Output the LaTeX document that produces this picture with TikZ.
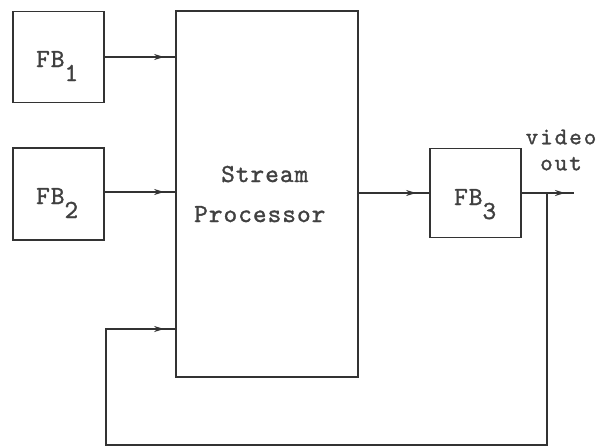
\documentclass[tikz,border=0pt]{standalone}
\usepackage{fontspec}
\usetikzlibrary{arrows.meta,decorations.markings}
\newfontfamily\twfam{lmmono10-regular.otf}[LetterSpace=4,FakeBold=1.2]
\newfontfamily\twfamv{lmmono10-regular.otf}[LetterSpace=8,FakeBold=1.2]
\newcommand{\twfont}{\twfam\fontsize{26}{28}\selectfont}
\newcommand{\twfontv}{\twfamv\fontsize{24}{26}\selectfont}
\newcommand{\fbsub}[1]{FB\raisebox{-14pt}{#1}}
\begin{document}
\begin{tikzpicture}[x=1pt,y=-1pt,
  blk/.style={draw=black!80,line width=1.8pt,rectangle,inner sep=0pt},
  conn/.style={draw=black!80,line width=1.8pt},
  tipat/.style={postaction={decorate},decoration={markings,
     mark=at position #1 with {\arrow{Stealth[length=10pt,width=6pt]}}}},
  lbl/.style={text=black!75,font=\twfont,inner sep=0pt,anchor=base west}]
\useasboundingbox (0,0) rectangle (608,447);
% boxes
\node[blk,minimum width=91pt,minimum height=91pt] (fb1) at (58.5,57) {};
\node[blk,minimum width=91pt,minimum height=92pt] (fb2) at (58.5,194) {};
\node[blk,minimum width=182pt,minimum height=366pt] (sp) at (267,194) {};
\node[blk,minimum width=91pt,minimum height=89pt] (fb3) at (475.5,193) {};
% labels
\node[lbl] (t1) at (36,67) {\fbsub{1}};
\node[lbl] (t2) at (36,204) {\fbsub{2}};
\node[lbl] (t3) at (454,205) {\fbsub{3}};
\node[lbl] (s1) at (221,182) {Stream};
\node[lbl] (s2) at (194,222) {Processor};
\node[lbl,font=\twfontv,anchor=center,align=center] (v) at (561,150) {video\\out};
% coordinates
\coordinate (out) at (574,193);
\coordinate (j) at (547,193);
\coordinate (c1) at (547,445);
\coordinate (c2) at (106,445);
\coordinate (c3) at (106,329);
\coordinate (fbin) at (sp.west |- c3);
% connectors
\draw[conn,tipat=-11pt] (fb1.east) -- (fb1.east -| sp.west);
\draw[conn,tipat=-11pt] (fb2.east |- 0,192) -- (sp.west |- 0,192);
\draw[conn,tipat=-13pt] (fb3.west -| sp.east) -- (fb3.west);
\draw[conn,tipat=-9pt] (fb3.east) -- (out);
\draw[conn,tipat=-11pt] (j) -- (c1) -- (c2) -- (c3) -- (fbin);
\end{tikzpicture}
\end{document}
